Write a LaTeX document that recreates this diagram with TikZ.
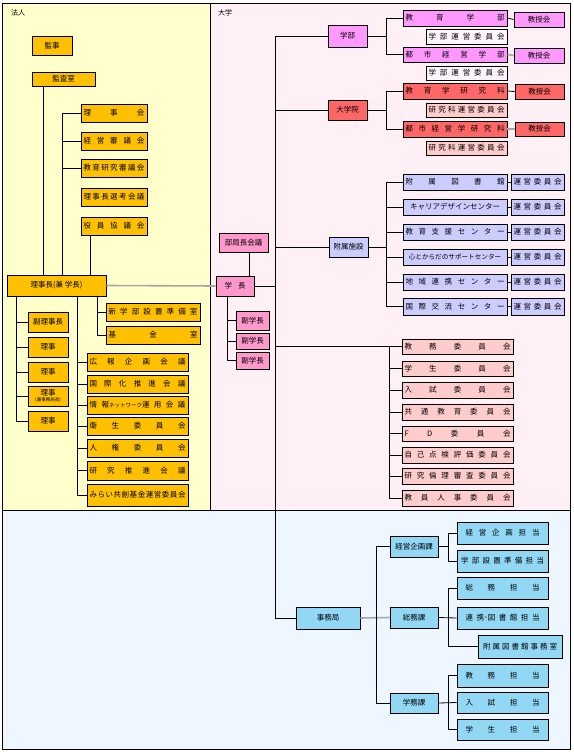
\documentclass[tikz,border=0pt]{standalone}
\usepackage{fontspec}
\newfontfamily\jp{Noto Sans CJK JP}
\definecolor{orangeC}{HTML}{FFC000}
\definecolor{yellowbg}{HTML}{FFFFCC}
\definecolor{pinkbg}{HTML}{FFF0F6}
\definecolor{bluebg}{HTML}{EEF6FF}
\definecolor{magentaC}{HTML}{FF99FF}
\definecolor{paleC}{HTML}{FFF5FF}
\definecolor{redC}{HTML}{FF6666}
\definecolor{roseC}{HTML}{FFCCCC}
\definecolor{lavC}{HTML}{CCCCFF}
\definecolor{pinkC}{HTML}{FF99CC}
\definecolor{skyC}{HTML}{92D8F5}
\definecolor{lineG}{HTML}{A6A6A6}
\newlength\jw
\def\jspstop{\jspstop}
\def\jspaux#1{\def\jsptmp{#1}\ifx\jsptmp\jspstop\else{#1}\hfill\expandafter\jspaux\fi}
\newcommand\jsp[2][\jw]{\hbox to #1{\jspaux#2\jspstop\unskip}}
\newcommand\bx[7]{%
  \pgfmathsetlength\jw{(#4-#2-5)*1pt}%
  \node[box,#6,minimum width={(#4-#2)*1pt},minimum height={(#5-#3)*1pt}] (#1) at ({(#2+#4)/2},{(#3+#5)/2}) {#7};}
\tikzset{
  box/.style={draw=black,line width=0.8pt,inner sep=0pt,anchor=center,font=\jp\fontsize{7.5}{8}\selectfont},
  ob/.style={fill=orangeC},
  mb/.style={fill=magentaC},
  pb/.style={fill=paleC},
  rb/.style={fill=redC},
  cb/.style={fill=roseC},
  lb/.style={fill=lavC},
  kb/.style={fill=pinkC},
  sb/.style={fill=skyC},
  conn/.style={draw=black,line width=0.8pt},
  gconn/.style={draw=lineG,line width=1.6pt},
  frame/.style={draw=black,line width=0.9pt},
  lbl/.style={anchor=west,inner sep=0pt,font=\jp\fontsize{7}{8}\selectfont}
}
\begin{document}
\begin{tikzpicture}[x=1pt,y=-1pt]
\useasboundingbox (0,0) rectangle (573,752);
% backgrounds
\fill[yellowbg] (2,3) rectangle (210,510);
\fill[pinkbg] (210,3) rectangle (570,510);
\fill[bluebg] (2,510) rectangle (570,749);
\draw[frame] (2,3) rectangle (210,510);
\draw[frame] (210,3) rectangle (570,510);
\draw[frame] (2,510) rectangle (570,749);
\node[lbl] (lblhojin) at (11,13) {法人};
\node[lbl] (lbldaigaku) at (218,13) {大学};

% ---------- 法人 ----------
\bx{kanji}{32}{36}{72}{55}{ob}{監事}
\bx{kansa}{32}{72}{95}{86}{ob}{監査室}
\bx{rijikai}{81}{104}{147}{122}{ob}{\jsp{理事会}}
\bx{shingi}{81}{132}{147}{150}{ob}{\jsp{経営審議会}}
\bx{kyoken}{81}{159}{147}{177}{ob}{\jsp{教育研究審議会}}
\bx{senko}{81}{188}{147}{206}{ob}{\jsp{理事長選考会議}}
\bx{yakuin}{81}{217}{147}{235}{ob}{\jsp{役員協議会}}
\bx{rijicho}{7}{275}{106}{296}{ob}{理事長(兼 学長)}
\bx{fukuriji}{28}{312}{68}{332}{ob}{副理事長}
\bx{rijiA}{28}{337}{68}{357}{ob}{理事}
\bx{rijiB}{28}{362}{68}{382}{ob}{理事}
\bx{rijiC}{28}{386}{68}{406}{ob,align=center}{理事\\[-2.5pt]{\fontsize{4.5}{5}\selectfont (兼事務局長)}}
\bx{rijiD}{28}{411}{68}{431}{ob}{理事}
\bx{shingakubu}{106}{303}{200}{321}{ob}{\jsp{新学部設置準備室}}
\bx{kikin}{106}{326}{200}{344}{ob}{\jsp{基金室}}
\bx{koho}{87}{353}{188}{371}{ob}{\jsp{広報企画会議}}
\bx{kokusai}{87}{375}{188}{393}{ob}{\jsp{国際化推進会議}}
\bx{joho}{87}{396}{188}{414}{ob}{\jsp{情{報{\fontsize{5.5}{6}\selectfont ネットワーク}運}用会議}}
\bx{eisei}{87}{417}{188}{435}{ob}{\jsp{衛生委員会}}
\bx{jinken}{87}{439}{188}{457}{ob}{\jsp{人権委員会}}
\bx{kensui}{87}{461}{188}{480}{ob}{\jsp{研究推進会議}}
\bx{mirai}{87}{484}{188}{506}{ob}{\jsp{みらい共創基金運営委員会}}

\coordinate (hA) at (43,0);
\coordinate (hB) at (62,0);
\coordinate (hC) at (90,0);
\coordinate (hD) at (16,0);
\coordinate (hE) at (77,0);
\coordinate (hF) at (97,0);
\draw[conn] (kansa.south -| hA) -- (hA |- rijicho.north);
\draw[conn] (rijikai.west) -| (hB |- rijicho.north);
\draw[conn] (shingi.west) -- (shingi.west -| hB);
\draw[conn] (kyoken.west) -- (kyoken.west -| hB);
\draw[conn] (yakuin.south -| hC) -- (hC |- rijicho.north);
\draw[conn] (hD |- rijicho.south) |- (rijiD.west);
\foreach \n in {fukuriji,rijiA,rijiB,rijiC} \draw[conn] (\n.west) -- (\n.west -| hD);
\draw[conn] (hE |- rijicho.south) |- (mirai.west);
\foreach \n in {koho,kokusai,joho,eisei,jinken,kensui} \draw[conn] (\n.west) -- (\n.west -| hE);
\draw[conn] (hF |- rijicho.south) |- (kikin.west);
\draw[conn] (shingakubu.west) -- (shingakubu.west -| hF);

% ---------- 大学 ----------
\bx{bukyoku}{219}{233}{268}{252}{kb}{部局長会議}
\bx{gakucho}{216}{276}{254}{296}{kb}{\hbox to 21pt{学\hfill 長}}
\bx{fukuA}{236}{311}{269}{330}{kb}{副学長}
\bx{fukuB}{236}{333}{269}{349}{kb}{副学長}
\bx{fukuC}{236}{352}{269}{369}{kb}{副学長}
\draw[gconn] (rijicho.east) -- (gakucho.west);

\bx{gakubu}{328}{25}{367}{47}{mb}{学部}
\bx{daigakuin}{328}{100}{367}{120}{rb}{大学院}
\bx{fuzoku}{329}{237}{368}{257}{lb}{附属施設}

\bx{kyoikuG}{403}{10}{507}{26}{mb}{\jsp{教育学部}}
\bx{kjA}{514}{12}{564}{27}{mb}{教授会}
\bx{unA}{426}{29}{507}{44}{pb}{\jsp{学部運営委員会}}
\bx{toshiG}{403}{47}{507}{62}{mb}{\jsp{都市経営学部}}
\bx{kjB}{514}{48}{564}{63}{mb}{教授会}
\bx{unB}{426}{66}{507}{80}{pb}{\jsp{学部運営委員会}}
\bx{kyoikuK}{403}{83}{507}{99}{rb}{\jsp{教育学研究科}}
\bx{kjC}{515}{84}{564}{99}{rb}{教授会}
\bx{unC}{426}{103}{507}{117}{cb}{\jsp{研究科運営委員会}}
\bx{toshiK}{403}{121}{507}{137}{rb}{\jsp{都市経営学研究科}}
\bx{kjD}{515}{122}{564}{136}{rb}{教授会}
\bx{unD}{426}{141}{507}{155}{cb}{\jsp{研究科運営委員会}}

\bx{facA}{403}{174}{507}{190}{lb}{\jsp{附属図書館}}
\bx{facB}{403}{199}{507}{215}{lb}{キャリアデザインセンター}
\bx{facC}{403}{224}{507}{240}{lb}{\jsp{教育支援センター}}
\bx{facD}{403}{249}{507}{265}{lb}{{\fontsize{6.6}{7}\selectfont 心とからだのサポートセンター}}
\bx{facE}{403}{274}{507}{290}{lb}{\jsp{地域連携センター}}
\bx{facF}{403}{298}{507}{315}{lb}{\jsp{国際交流センター}}
\bx{unFA}{511}{174}{564}{190}{lb}{\jsp{運営委員会}}
\bx{unFB}{511}{199}{564}{215}{lb}{\jsp{運営委員会}}
\bx{unFC}{511}{224}{564}{240}{lb}{\jsp{運営委員会}}
\bx{unFD}{511}{249}{564}{265}{lb}{\jsp{運営委員会}}
\bx{unFE}{511}{274}{564}{290}{lb}{\jsp{運営委員会}}
\bx{unFF}{511}{298}{564}{315}{lb}{\jsp{運営委員会}}

\bx{iinA}{402}{339}{513}{354}{cb}{\jsp{教務委員会}}
\bx{iinB}{402}{361}{513}{376}{cb}{\jsp{学生委員会}}
\bx{iinC}{402}{382}{513}{398}{cb}{\jsp{入試委員会}}
\bx{iinD}{402}{404}{513}{420}{cb}{\jsp{共通教育委員会}}
\bx{iinE}{402}{426}{513}{441}{cb}{\jsp{FD委員会}}
\bx{iinF}{402}{447}{513}{463}{cb}{\jsp{自己点検評価委員会}}
\bx{iinG}{402}{468}{513}{484}{cb}{\jsp{研究倫理審査委員会}}
\bx{iinH}{402}{490}{513}{506}{cb}{\jsp{教員人事委員会}}

% ---------- 事務局 ----------
\bx{jimu}{296}{607}{360}{629}{sb}{事務局}
\bx{keieika}{390}{536}{438}{557}{sb}{経営企画課}
\bx{somuka}{390}{607}{438}{628}{sb}{総務課}
\bx{gakumuka}{390}{693}{438}{713}{sb}{学務課}
\bx{kikakuT}{457}{522}{548}{544}{sb}{\jsp[74pt]{経営企画担当}}
\bx{junbiT}{457}{550}{548}{572}{sb}{\jsp[83pt]{学部設置準備担当}}
\bx{somuT}{457}{577}{548}{599}{sb}{\jsp[74pt]{総務担当}}
\bx{renkeiT}{457}{607}{548}{629}{sb}{\jsp[74pt]{連{携･図}書館担当}}
\bx{toshoJ}{478}{635}{562}{658}{sb}{\jsp[74pt]{附属図書館事務室}}
\bx{kyomuT}{457}{664}{548}{687}{sb}{\jsp[74pt]{教務担当}}
\bx{nyushiT}{457}{692}{548}{713}{sb}{\jsp[74pt]{入試担当}}
\bx{gakuseiT}{457}{719}{548}{740}{sb}{\jsp[74pt]{学生担当}}

% 大学 connectors
\coordinate (dT) at (275.5,0);
\coordinate (dB) at (249,0);
\coordinate (dF) at (227,0);
\coordinate (dG) at (386,0);
\coordinate (dI) at (389,0);
\draw[conn] (bukyoku.south -| dB) -- (dB |- gakucho.north);
\draw[conn] (gakubu.west) -| (dT |- jimu.west) -- (jimu.west);
\draw[conn] (daigakuin.west) -- (daigakuin.west -| dT);
\draw[conn] (fuzoku.west) -- (fuzoku.west -| dT);
\draw[conn] (gakucho.east) -- (gakucho.east -| dT);
\draw[conn] (dF |- gakucho.south) |- (fukuC.west);
\draw[conn] (fukuA.west) -- (fukuA.west -| dF);
\draw[conn] (fukuB.west) -- (fukuB.west -| dF);

\draw[conn] (gakubu.east) -- (gakubu.east -| dG);
\draw[conn] (kyoikuG.west) -| (dG |- toshiG.west) -- (toshiG.west);
\draw[conn] (daigakuin.east) -- (daigakuin.east -| dG);
\draw[conn] (kyoikuK.west) -| (dG |- toshiK.west) -- (toshiK.west);
\draw[conn] (kyoikuG.east) -- (kjA.west);
\draw[gconn] (toshiG.east) -- (kjB.west);
\draw[conn] (kyoikuK.east) -- (kjC.west);
\draw[gconn] (toshiK.east) -- (kjD.west);

\draw[conn] (fuzoku.east) -- (fuzoku.east -| dG);
\draw[conn] (facA.west) -| (dG |- facF.west) -- (facF.west);
\foreach \n in {facB,facC,facD,facE} \draw[conn] (\n.west) -- (\n.west -| dG);
\draw[conn] (facA.east) -- (unFA.west);
\draw[conn] (facB.east) -- (unFB.west);
\draw[conn] (facC.east) -- (unFC.west);
\draw[conn] (facD.east) -- (unFD.west);
\draw[conn] (facE.east) -- (unFE.west);
\draw[conn] (facF.east) -- (unFF.west);

\draw[conn] (dT |- iinA.west) -- (iinA.west);
\draw[conn] (dI |- iinA.west) |- (iinH.west);
\foreach \n in {iinB,iinC,iinD,iinE,iinF,iinG} \draw[conn] (\n.west) -- (\n.west -| dI);

% 事務局 connectors
\coordinate (jT) at (376,0);
\coordinate (jK) at (448,0);
\draw[gconn] (jimu.east) -- (somuka.west);
\draw[conn] (keieika.west) -| (jT |- gakumuka.west) -- (gakumuka.west);
\draw[conn] (keieika.east) -- (keieika.east -| jK);
\draw[conn] (kikakuT.west) -| (jK |- junbiT.west) -- (junbiT.west);
\draw[conn] (somuka.east) -- (renkeiT.west);
\draw[conn] (somuT.west) -| (jK |- toshoJ.west) -- (toshoJ.west);
\draw[conn] (gakumuka.east) -- (nyushiT.west);
\draw[conn] (kyomuT.west) -| (jK |- gakuseiT.west) -- (gakuseiT.west);
\end{tikzpicture}
\end{document}
